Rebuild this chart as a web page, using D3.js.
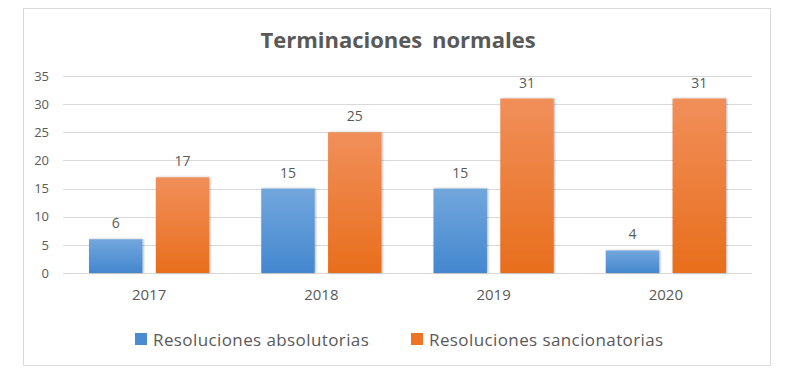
<!DOCTYPE html>
<html lang="es">
  <head>
    <meta charset="utf-8">
    <title>Terminaciones normales</title>
    <script src="https://d3js.org/d3.v7.min.js"></script>
    <style>
      body { margin: 0; background: #fff; }
      text { font-family: "Open Sans", "Noto Sans", sans-serif; fill: #595959; }
    </style>
  </head>
  <body>
    <script>
      // data
      var years = ["2017", "2018", "2019", "2020"];
      var absolutorias = [6, 15, 15, 4];
      var sancionatorias = [17, 25, 31, 31];
      var seriesNames = ["Resoluciones absolutorias", "Resoluciones sancionatorias"];
      var yTicks = [0, 5, 10, 15, 20, 25, 30, 35];

      var w = 801, h = 384;
      var margin = {top: 76, right: 49, bottom: 111, left: 63};
      var innerWidth = w - margin.left - margin.right;
      var innerHeight = h - margin.top - margin.bottom;

      var svg = d3.select("body").append("svg")
          .attr("width", w)
          .attr("height", h);

      var defs = svg.append("defs");
      function grad(id, top, bottom) {
        var g = defs.append("linearGradient").attr("id", id)
            .attr("x1", 0).attr("y1", 0).attr("x2", 0).attr("y2", 1);
        g.append("stop").attr("offset", "0%").attr("stop-color", top);
        g.append("stop").attr("offset", "100%").attr("stop-color", bottom);
      }
      grad("gBlue", "#72a7dd", "#4487cf");
      grad("gOrange", "#f18f5a", "#e86e1c");
      var shadow = defs.append("filter").attr("id", "shadow")
          .attr("x", "-20%").attr("y", "-20%").attr("width", "140%").attr("height", "140%");
      shadow.append("feDropShadow").attr("dx", 1).attr("dy", 0).attr("stdDeviation", 1.2)
          .attr("flood-color", "#000").attr("flood-opacity", 0.3);

      // chart border
      svg.append("rect")
          .attr("x", 23.5).attr("y", 8.5)
          .attr("width", 747).attr("height", 357)
          .attr("fill", "white")
          .attr("stroke", "#d9d9d9");

      svg.append("text")
          .attr("x", 398).attr("y", 48)
          .attr("text-anchor", "middle")
          .style("font-size", "22px")
          .style("font-weight", "bold")
          .style("word-spacing", "4px")
          .text("Terminaciones  normales");

      var g = svg.append("g")
          .attr("transform", `translate(${margin.left},${margin.top})`);

      var x0 = d3.scaleBand().domain(years).range([0, innerWidth])
          .paddingInner(0).paddingOuter(0);
      var x1 = d3.scaleBand().domain([0, 1]).range([26, x0.bandwidth() - 26])
          .paddingInner(0.2);
      var y = d3.scaleLinear().domain([0, 35]).range([innerHeight, 0]);

      // gridlines
      g.selectAll("line.grid")
          .data(yTicks)
          .enter().append("line")
          .attr("class", "grid")
          .attr("x1", 0).attr("x2", innerWidth)
          .attr("y1", function(d) { return Math.round(y(d)) + 0.5; })
          .attr("y2", function(d) { return Math.round(y(d)) + 0.5; })
          .attr("stroke", "#d9d9d9");

      var yAxis = d3.axisLeft(y).tickValues(yTicks).tickSize(0).tickPadding(14);
      var ya = g.append("g").call(yAxis)
          .attr("font-size", 13).attr("font-family", null);
      ya.select(".domain").remove();
      ya.selectAll("text").style("font-size", "13px").style("fill", "#595959");

      var xAxis = d3.axisBottom(x0).tickSize(0).tickPadding(16);
      var xa = g.append("g").attr("transform", `translate(0,${innerHeight})`).call(xAxis)
          .attr("font-size", 15).attr("font-family", null);
      xa.select(".domain").remove();
      xa.selectAll("text").style("font-size", "15px").style("fill", "#595959");

      var series = [absolutorias, sancionatorias];
      var fills = ["url(#gBlue)", "url(#gOrange)"];

      series.forEach(function(vals, si) {
        var grp = g.append("g");
        grp.selectAll("rect")
            .data(vals)
            .enter().append("rect")
            .attr("x", function(d, i) { return x0(years[i]) + x1(si); })
            .attr("y", function(d) { return y(d); })
            .attr("width", x1.bandwidth())
            .attr("height", function(d) { return innerHeight - y(d); })
            .attr("fill", fills[si])
            .attr("filter", "url(#shadow)");
        grp.selectAll("text")
            .data(vals)
            .enter().append("text")
            .attr("x", function(d, i) { return x0(years[i]) + x1(si) + x1.bandwidth() / 2; })
            .attr("y", function(d) { return y(d) - 11; })
            .attr("text-anchor", "middle")
            .style("font-size", "14px")
            .text(function(d) { return d; });
      });

      // legend
      var legendX = [135, 411];
      var legendColors = ["#4a8bd2", "#ec7424"];
      var lg = svg.append("g").selectAll("g")
          .data(seriesNames)
          .enter().append("g")
          .attr("transform", function(d, i) { return `translate(${legendX[i]},333)`; });
      lg.append("rect")
          .attr("width", 12).attr("height", 12)
          .attr("fill", function(d, i) { return legendColors[i]; });
      lg.append("text")
          .attr("x", 18).attr("y", 12.5)
          .style("font-size", "17px")
          .style("letter-spacing", "0.4px")
          .text(function(d) { return d; });
    </script>
  </body>
</html>
